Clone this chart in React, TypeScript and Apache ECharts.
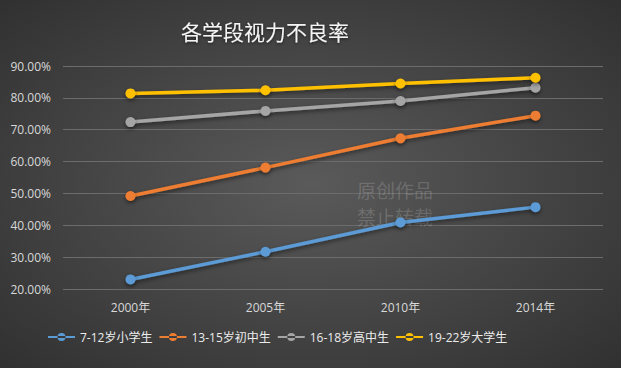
import React, { useEffect, useRef } from "react";
import * as echarts from "echarts";

const categories = ["2000年", "2005年", "2010年", "2014年"];
const seriesNames = ["7-12岁小学生", "13-15岁初中生", "16-18岁高中生", "19-22岁大学生"];
const primary = [23.0, 31.7, 40.9, 45.7];
const junior = [49.2, 58.1, 67.3, 74.4];
const senior = [72.4, 75.9, 79.0, 83.2];
const college = [81.4, 82.4, 84.5, 86.3];
const colors = ["#5B9BD5", "#ED7D31", "#A5A5A5", "#FFC000"];
const titleText = "各学段视力不良率";
const watermark = ["原创作品", "禁止转载"];

const FONT = "'Open Sans', 'Noto Sans CJK SC', sans-serif";

export default function App() {
  const ref = useRef<HTMLDivElement>(null);
  useEffect(() => {
    document.body.style.margin = "0";
    const chart = echarts.init(ref.current!, null, { renderer: "svg" });
    const dataSets = [primary, junior, senior, college];
    chart.setOption({
      animation: false,
      backgroundColor: new echarts.graphic.RadialGradient(0.5, 0.5, 0.75, [
        { offset: 0, color: "#5a5a5a" },
        { offset: 1, color: "#2e2e2e" },
      ]),
      title: {
        text: titleText,
        left: 176,
        top: 15,
        textStyle: {
          color: "#f4f4f4",
          fontSize: 21,
          fontWeight: "normal",
          fontFamily: "'Noto Sans CJK SC', sans-serif",
          textShadowColor: "rgba(0,0,0,0.6)",
          textShadowBlur: 3,
          textShadowOffsetY: 1,
        },
      },
      graphic: watermark.map((t, i) => ({
        type: "text",
        left: 357,
        top: 180 + i * 27,
        style: {
          text: t,
          fill: "rgba(255,255,255,0.17)",
          font: "19px 'Noto Sans CJK SC', sans-serif",
        },
        z: 1,
      })),
      legend: {
        bottom: 20,
        left: 43,
        itemWidth: 27,
        itemHeight: 8,
        itemGap: 7,
        icon: "path://M0,3 L27,3 L27,5 L0,5 Z M9.5,4 A4,4 0 1,0 17.5,4 A4,4 0 1,0 9.5,4 Z",
        textStyle: { color: "#ececec", fontSize: 12, fontFamily: FONT },
        data: seriesNames.map((n) => ({ name: n })),
      },
      grid: { left: 63, right: 18, top: 66, bottom: 79 },
      xAxis: {
        type: "category",
        data: categories,
        boundaryGap: true,
        axisLine: { show: false },
        axisTick: { show: false },
        axisLabel: { color: "#d8d8d8", fontSize: 12, margin: 12, fontFamily: FONT },
      },
      yAxis: {
        type: "value",
        min: 20,
        max: 90,
        interval: 10,
        axisLine: { show: false },
        axisTick: { show: false },
        axisLabel: {
          color: "#d8d8d8",
          fontSize: 12,
          margin: 12,
          fontFamily: FONT,
          formatter: (v: number) => v.toFixed(2) + "%",
        },
        splitLine: { lineStyle: { color: "#6c6c6c", width: 1 } },
      },
      series: seriesNames.map((name, i) => ({
        name,
        type: "line",
        data: dataSets[i],
        symbol: "circle",
        symbolSize: 10,
        color: colors[i],
        lineStyle: {
          width: 3.5,
          color: colors[i],
          shadowColor: "rgba(0,0,0,0.5)",
          shadowBlur: 4,
          shadowOffsetY: 2,
        },
        itemStyle: {
          color: colors[i],
          shadowColor: "rgba(0,0,0,0.5)",
          shadowBlur: 4,
          shadowOffsetY: 2,
        },
        z: 3,
      })),
    });
    return () => chart.dispose();
  }, []);
  return <div ref={ref} style={{ width: 621, height: 368 }} />;
}
